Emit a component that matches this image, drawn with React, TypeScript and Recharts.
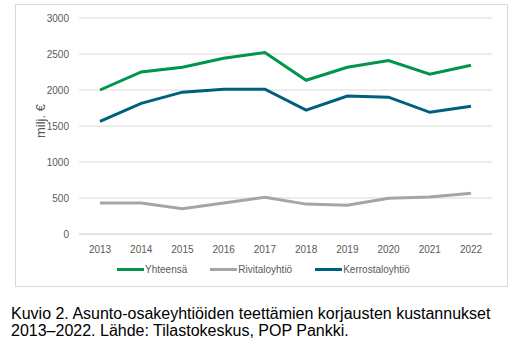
import React from 'react';
import { LineChart, Line, XAxis, YAxis, CartesianGrid } from 'recharts';

const years = ['2013', '2014', '2015', '2016', '2017', '2018', '2019', '2020', '2021', '2022'];
const yhteensa = [2000, 2250, 2315, 2440, 2520, 2135, 2315, 2410, 2220, 2345];
const rivitalo = [430, 430, 350, 430, 510, 415, 400, 495, 515, 565];
const kerrostalo = [1565, 1815, 1970, 2010, 2010, 1720, 1915, 1900, 1690, 1775];
const yTicks = [0, 500, 1000, 1500, 2000, 2500, 3000];

const series = [
  { key: 'yhteensa', name: 'Yhteensä', color: '#00954a' },
  { key: 'rivitalo', name: 'Rivitaloyhtiö', color: '#a5a5a5' },
  { key: 'kerrostalo', name: 'Kerrostaloyhtiö', color: '#005f7f' },
];

const data = years.map((year, i) => ({
  year,
  yhteensa: yhteensa[i],
  rivitalo: rivitalo[i],
  kerrostalo: kerrostalo[i],
}));

const font = '"Liberation Sans", Arial, sans-serif';

const LegendRow = () => (
  <div
    style={{
      position: 'absolute',
      left: 101,
      top: 259,
      display: 'flex',
      fontFamily: font,
      fontSize: 10,
      color: '#595959',
    }}
  >
    {series.map((s) => (
      <div key={s.key} style={{ display: 'flex', alignItems: 'center', marginRight: 23 }}>
        <div style={{ width: 27, height: 3, background: s.color, marginRight: 1 }} />
        <span>{s.name}</span>
      </div>
    ))}
  </div>
);

export default function App() {
  return (
    <div style={{ position: 'fixed', left: 0, top: 0, width: 529, height: 355, background: '#fff' }}>
      <div
        style={{
          position: 'absolute',
          left: 15,
          top: 4,
          width: 493,
          height: 283,
          border: '1px solid #d9d9d9',
          boxSizing: 'border-box',
        }}
      >
        <LineChart width={491} height={281} data={data} margin={{ top: 13, right: 15, bottom: 30, left: 14 }}>
          <CartesianGrid vertical={false} stroke="#d9d9d9" />
          <XAxis
            dataKey="year"
            tickLine={false}
            axisLine={{ stroke: '#d9d9d9' }}
            padding={{ left: 21, right: 21 }}
            tick={{ fill: '#595959', fontSize: 10, fontFamily: font }}
            tickMargin={6}
            height={22}
          />
          <YAxis
            domain={[0, 3000]}
            ticks={yTicks}
            interval={0}
            tickLine={false}
            axisLine={false}
            width={49}
            tickMargin={4}
            tick={{ fill: '#595959', fontSize: 10, fontFamily: font }}
            label={{
              value: 'milj. €',
              angle: -90,
              position: 'insideLeft',
              offset: 10,
              dy: 12,
              style: { fill: '#595959', fontSize: 13, fontFamily: font },
            }}
          />
          {series.map((s) => (
            <Line
              key={s.key}
              dataKey={s.key}
              name={s.name}
              stroke={s.color}
              strokeWidth={3}
              dot={false}
              activeDot={false}
              type="linear"
              isAnimationActive={false}
            />
          ))}
        </LineChart>
        <LegendRow />
      </div>
      <div
        style={{
          position: 'absolute',
          left: 11,
          top: 305,
          width: 518,
          fontFamily: font,
          fontSize: 16,
          lineHeight: '17px',
          color: '#000',
        }}
      >
        Kuvio 2. Asunto-osakeyhtiöiden teettämien korjausten kustannukset
        <br />
        2013–2022. Lähde: Tilastokeskus, POP Pankki.
      </div>
    </div>
  );
}
